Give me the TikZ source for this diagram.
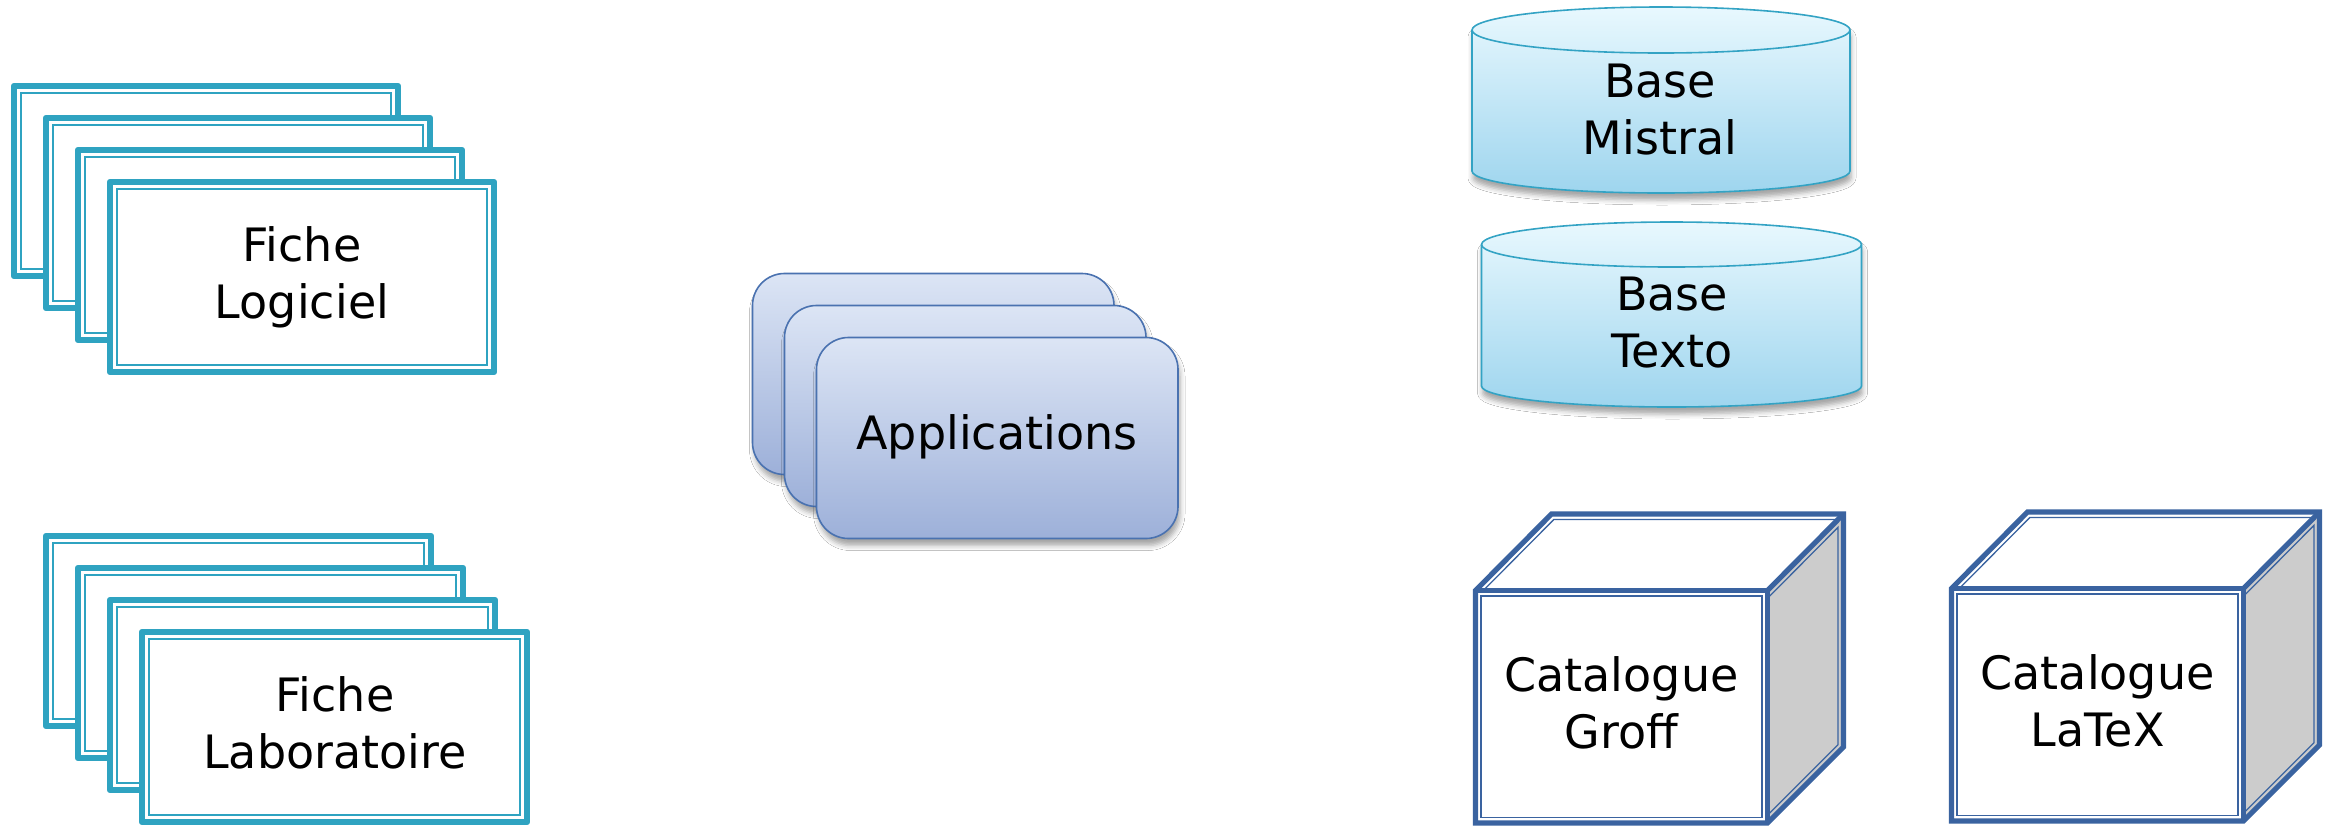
\documentclass[tikz,border=0pt]{standalone}
\usepackage{fontspec}
\setmainfont{DejaVu Sans}
\usetikzlibrary{shadows.blur}
\definecolor{ficheTeal}{HTML}{2FA3C1}
\definecolor{appBorder}{HTML}{4A72B0}
\definecolor{appTop}{HTML}{DCE5F5}
\definecolor{appBot}{HTML}{9DB0D9}
\definecolor{cylBorder}{HTML}{33A3C4}
\definecolor{cylTop}{HTML}{E8F8FE}
\definecolor{cylBot}{HTML}{9ED5EE}
\definecolor{cubeBlue}{HTML}{3A63A0}
\definecolor{cubeGray}{HTML}{CCCCCC}
\newcommand\fichecard[4]{%
  \draw[cardthick] (#1,#2) rectangle (#3,#4);
  \draw[cardthin] (#1+7,#2+7) rectangle (#3-7,#4-7);
}
\newcommand\cubeshape{%
  \fill[cubeGray] (1767.5,590.5) -- (1843.5,514) -- (1843.5,747) -- (1767.5,823) -- cycle;
  \fill[white] (1475.5,590.5) -- (1551.5,514) -- (1843.5,514) -- (1767.5,590.5) -- cycle;
  \fill[white] (1475.5,590.5) rectangle (1767.5,823);
  \draw[cubethin] (1481,596) rectangle (1762,817.5);
  \draw[cubethin] (1483.3,590.5) -- (1553.8,519.5) -- (1838,519.5);
  \draw[cubethin] (1767.5,598.3) -- (1838,527.3) -- (1838,744.7) -- (1767.5,815.2);
  \draw[cubethick] (1475.5,823) -- (1475.5,590.5) -- (1551.5,514) -- (1843.5,514) -- (1843.5,747) -- (1767.5,823) -- cycle;
  \draw[cubethick] (1475.5,590.5) -- (1767.5,590.5) -- (1767.5,823);
  \draw[cubethick] (1767.5,590.5) -- (1843.5,514);
}
\begin{document}
\begin{tikzpicture}[x=0.5pt,y=-0.5pt,
  lbl/.style={font=\fontsize{23}{28.5}\selectfont, align=center, inner sep=0pt, anchor=base},
  cardthick/.style={draw=ficheTeal, fill=white, line width=3.2pt, line join=round},
  cardthin/.style={draw=ficheTeal, line width=0.8pt},
  appcard/.style={draw=appBorder, line width=0.8pt, top color=appTop, bottom color=appBot,
    rounded corners=16pt,
    blur shadow={shadow xshift=1pt, shadow yshift=-3.5pt, shadow blur radius=2.5pt, shadow opacity=35}},
  cylbody/.style={draw=cylBorder, line width=0.8pt, top color=cylTop, bottom color=cylBot,
    blur shadow={shadow xshift=0.5pt, shadow yshift=-3.5pt, shadow blur radius=2.5pt, shadow opacity=35}},
  cylline/.style={draw=cylBorder, line width=0.8pt},
  cubethick/.style={draw=cubeBlue, line width=2.6pt},
  cubethin/.style={draw=cubeBlue, line width=0.65pt},
]
\useasboundingbox (0,0) rectangle (2330,826);
\fill[white] (0,0) rectangle (2330,826);

% Fiche Logiciel stack
\foreach \k in {0,...,3} {\fichecard{14+32*\k}{86+32*\k}{398+32*\k}{276+32*\k}}
\node[lbl] (logiciel) at (302,318) {Fiche\\Logiciel};

% Fiche Laboratoire stack
\foreach \k in {0,...,3} {\fichecard{46+32*\k}{536+32*\k}{431+32*\k}{726+32*\k}}
\node[lbl] (laboratoire) at (335,768) {Fiche\\Laboratoire};

% Applications stack
\foreach \k in {0,...,2} {\path[appcard] (752.5+32*\k,273.5+32*\k) rectangle (1114+32*\k,474.5+32*\k);}
\node[lbl] (applications) at (997,449) {Applications};

% Base Mistral
\path[cylbody] (1472,30) -- (1472,171) arc[start angle=180, end angle=360, x radius=94.5pt, y radius=11pt]
  -- (1850,30) arc[start angle=0, end angle=180, x radius=94.5pt, y radius=11.5pt] -- cycle;
\draw[cylline] (1472,30) arc[start angle=180, end angle=360, x radius=94.5pt, y radius=11.5pt];
\node[lbl] (mistral) at (1660,154) {Base\\Mistral};

% Base Texto
\path[cylbody] (1481.5,244.5) -- (1481.5,386) arc[start angle=180, end angle=360, x radius=95pt, y radius=10.5pt]
  -- (1861.5,244.5) arc[start angle=0, end angle=180, x radius=95pt, y radius=11.25pt] -- cycle;
\draw[cylline] (1481.5,244.5) arc[start angle=180, end angle=360, x radius=95pt, y radius=11.25pt];
\node[lbl] (texto) at (1672,367) {Base\\Texto};

% Catalogue Groff
\cubeshape
\node[lbl] (groff) at (1621.5,748) {Catalogue\\Groff};

% Catalogue LaTeX
\begin{scope}[shift={(476,-2)}]
\cubeshape
\node[lbl] (latex) at (1621.5,748) {Catalogue\\LaTeX};
\end{scope}
\end{tikzpicture}
\end{document}
